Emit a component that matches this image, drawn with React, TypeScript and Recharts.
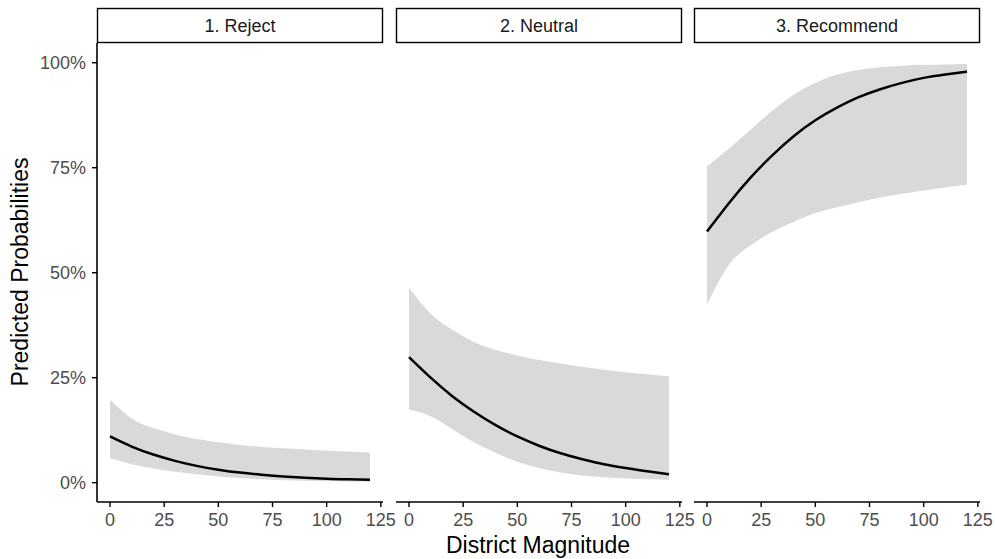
import { ComposedChart, Area, Line, XAxis, YAxis } from "recharts";

// district magnitude grid the predictions were read at
const magnitude = [0, 10, 20, 30, 40, 50, 60, 70, 80, 90, 100, 110, 120];

const rejectFit = [0.110, 0.086, 0.067, 0.052, 0.040, 0.031, 0.024, 0.019, 0.015, 0.012, 0.0095, 0.008, 0.007];
const rejectLow = [0.059, 0.044, 0.034, 0.026, 0.020, 0.015, 0.011, 0.008, 0.006, 0.0045, 0.0035, 0.003, 0.0025];
const rejectHigh = [0.198, 0.153, 0.130, 0.115, 0.104, 0.096, 0.090, 0.085, 0.082, 0.079, 0.076, 0.074, 0.072];

const neutralFit = [0.299, 0.250, 0.206, 0.169, 0.137, 0.110, 0.088, 0.070, 0.056, 0.044, 0.035, 0.027, 0.020];
const neutralLow = [0.174, 0.158, 0.127, 0.096, 0.071, 0.050, 0.035, 0.024, 0.017, 0.013, 0.010, 0.008, 0.007];
const neutralHigh = [0.464, 0.402, 0.364, 0.335, 0.316, 0.303, 0.292, 0.284, 0.276, 0.269, 0.263, 0.258, 0.253];

const recommendFit = [0.598, 0.665, 0.726, 0.779, 0.825, 0.863, 0.893, 0.918, 0.937, 0.952, 0.964, 0.972, 0.979];
const recommendLow = [0.424, 0.518, 0.565, 0.597, 0.621, 0.642, 0.656, 0.668, 0.679, 0.688, 0.696, 0.703, 0.710];
const recommendHigh = [0.753, 0.795, 0.840, 0.885, 0.924, 0.952, 0.972, 0.983, 0.989, 0.993, 0.995, 0.996, 0.997];

const facetLabels = ["1. Reject", "2. Neutral", "3. Recommend"];
const xTicks = [0, 25, 50, 75, 100, 125];
const yTicks = [0, 0.25, 0.5, 0.75, 1];

const FONT = '"Liberation Sans", Arial, Helvetica, sans-serif';
const PANEL_W = 286;
const PANEL_TOP = 43;
const PANEL_BOTTOM = 502;
const PAD = 16;

const toRows = (fit: number[], low: number[], high: number[]) =>
  magnitude.map((m, i) => ({ magnitude: m, fit: fit[i], band: [low[i], high[i]] }));

const panels = [
  { label: facetLabels[0], left: 97, rows: toRows(rejectFit, rejectLow, rejectHigh) },
  { label: facetLabels[1], left: 396, rows: toRows(neutralFit, neutralLow, neutralHigh) },
  { label: facetLabels[2], left: 694, rows: toRows(recommendFit, recommendLow, recommendHigh) },
];

const tickStyle = { fill: "#4d4d4d", fontSize: 18, fontFamily: FONT };

function Panel({ left, rows, first }: { left: number; rows: any[]; first: boolean }) {
  const yW = first ? left : 0;
  const chartLeft = first ? 0 : left - PAD;
  const width = first ? left + PANEL_W + PAD : PANEL_W + 2 * PAD;
  return (
    <div style={{ position: "absolute", left: chartLeft, top: 0 }}>
      <ComposedChart
        width={width}
        height={559}
        data={rows}
        margin={{ top: PANEL_TOP, right: PAD, bottom: 0, left: first ? 0 : PAD }}
      >
        <XAxis
          dataKey="magnitude"
          type="number"
          domain={[-6, 126]}
          ticks={xTicks}
          allowDataOverflow
          height={559 - PANEL_BOTTOM}
          axisLine={{ stroke: "#000", strokeWidth: 1.6 }}
          tickLine={{ stroke: "#000", strokeWidth: 1.4 }}
          tickSize={5}
          tickMargin={6}
          tick={tickStyle}
        />
        <YAxis
          hide={!first}
          width={yW}
          type="number"
          domain={[-0.046, 1.047]}
          ticks={yTicks}
          allowDataOverflow
          axisLine={{ stroke: "#000", strokeWidth: 1.6 }}
          tickLine={{ stroke: "#000", strokeWidth: 1.4 }}
          tickSize={5}
          tickMargin={6}
          tick={tickStyle}
          tickFormatter={(v: number) => `${Math.round(v * 100)}%`}
        />
        <Area
          dataKey="band"
          type="natural"
          stroke="none"
          fill="#d9d9d9"
          fillOpacity={1}
          isAnimationActive={false}
        />
        <Line
          dataKey="fit"
          type="natural"
          stroke="#000"
          strokeWidth={2.5}
          dot={false}
          activeDot={false}
          isAnimationActive={false}
        />
      </ComposedChart>
    </div>
  );
}

export default function App() {
  return (
    <div style={{ position: "absolute", left: 0, top: 0, width: 995, height: 559, background: "#fff", fontFamily: FONT }}>
      {panels.map((p, i) => (
        <Panel key={p.label} left={p.left} rows={p.rows} first={i === 0} />
      ))}
      <svg width={995} height={559} style={{ position: "absolute", left: 0, top: 0, pointerEvents: "none" }}>
        {panels.map((p) => (
          <g key={p.label}>
            <rect x={p.left + 0.5} y={8.5} width={PANEL_W - 1} height={34} fill="#fff" stroke="#000" strokeWidth={1.4} />
            <text x={p.left + PANEL_W / 2} y={32} textAnchor="middle" fontSize={18} fill="#1a1a1a" fontFamily={FONT}>
              {p.label}
            </text>
          </g>
        ))}
        <text x={538} y={553} textAnchor="middle" fontSize={23} fill="#000" fontFamily={FONT}>
          District Magnitude
        </text>
        <text x={28} y={272} textAnchor="middle" fontSize={23} fill="#000" fontFamily={FONT} transform="rotate(-90 28 272)">
          Predicted Probabilities
        </text>
      </svg>
    </div>
  );
}
